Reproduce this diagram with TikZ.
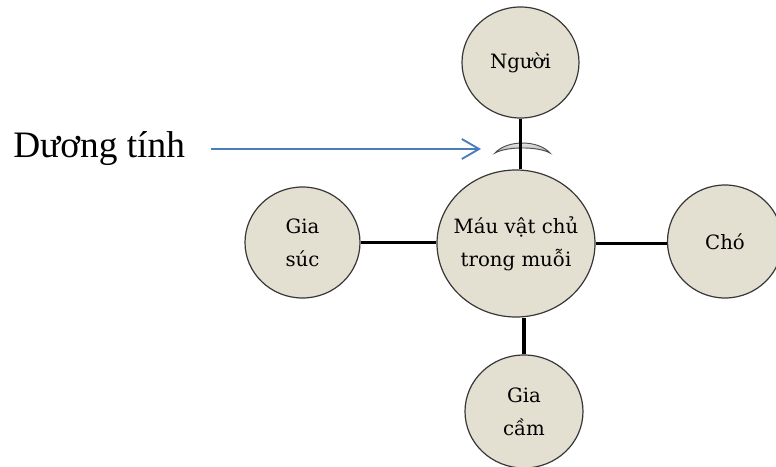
\documentclass[tikz,border=0pt]{standalone}
\usepackage{fontspec}
\setmainfont{Liberation Serif}
\newfontfamily\nodefont{DejaVu Serif}
\usetikzlibrary{shapes.geometric,arrows.meta}
\definecolor{nodefill}{RGB}{228,224,209}
\definecolor{nodeline}{RGB}{55,55,55}
\definecolor{arrowblue}{RGB}{74,126,187}
\tikzset{
  hostnode/.style={ellipse, draw=nodeline, fill=nodefill, line width=0.9pt,
    inner sep=0pt, align=center, font=\nodefont\fontsize{14.8}{24.5}\selectfont},
  link/.style={draw=black, line width=2.5pt},
  crescent/.style={draw=black!70, line width=0.7pt, top color=white, bottom color=black!35},
  pointer/.style={draw=arrowblue, line width=1.4pt, -{Straight Barb[length=13pt, width=15pt, line width=1.4pt]}}
}
\begin{document}
\begin{tikzpicture}[x=0.75pt, y=-0.75pt]
\useasboundingbox (0,0) rectangle (776,467);
\node[hostnode, minimum width=87.75pt, minimum height=83.25pt] (nguoi) at (520.5,62.5) {Người};
\node[hostnode, inner xsep=-8pt, minimum width=118.5pt, minimum height=110.25pt] (mau) at (516,243.5) {Máu vật chủ\\trong muỗi};
\node[hostnode, minimum width=86.25pt, minimum height=83.25pt] (giasuc) at (302.5,242.5) {Gia\\súc};
\node[hostnode, minimum width=86.25pt, minimum height=84.75pt] (cho) at (725,241.5) {Chó};
\node[hostnode, minimum width=88.5pt, minimum height=84.75pt] (giacam) at (524,411.5) {Gia\\cầm};
\path[crescent] (495,153) .. controls (507,139.7) and (538,139.7) .. (550,153)
  .. controls (538,146.3) and (507,146.3) .. (495,153) -- cycle;
\draw[link] (nguoi.south) -- (mau.north -| nguoi.south);
\draw[link] (giacam.north) -- (giacam.north |- mau.south);
\draw[link] (giasuc.east) -- (giasuc.east -| mau.west);
\draw[link] (mau.east) -- (mau.east -| cho.west);
\node[anchor=base west, inner sep=0pt, font=\fontsize{28}{32}\selectfont] (dt) at (13,157) {Dương tính};
\coordinate (astart) at (211,149);
\coordinate (aend) at (481,149);
\draw[pointer] (astart) -- (aend);
\end{tikzpicture}
\end{document}
